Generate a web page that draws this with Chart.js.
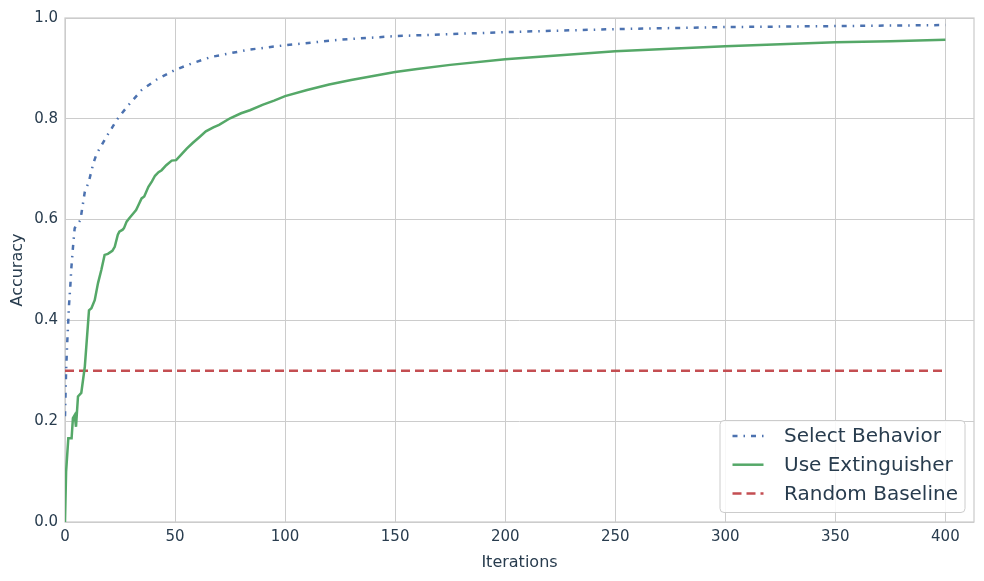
<!DOCTYPE html>
<html>
<head>
<meta charset="utf-8">
<script src="https://cdn.jsdelivr.net/npm/chart.js@4/dist/chart.umd.min.js"></script>
<style>
  html, body { margin: 0; padding: 0; background: #fff; }
  #wrap { width: 984px; height: 581px; }
</style>
</head>
<body>
<div id="wrap"><canvas id="accChart" width="984" height="581"></canvas></div>
<script>
/* Learning curves: accuracy per iteration */
var selectIter = [0, 0.5, 1, 1.4, 1.8, 2.4, 2.9, 3.6, 4.4, 5.5, 7.0, 7.7, 9.0, 10.8, 12.9, 14.4, 16.7, 18.9, 21.2, 23.5,
  28.8, 34.8, 41.7, 50, 58.3, 66.7, 75, 83.3, 100, 125, 150, 175, 200, 250, 300, 350, 400];
var selectAcc = [0.21, 0.30, 0.355, 0.391, 0.429, 0.467, 0.505, 0.544, 0.583, 0.590, 0.599, 0.619, 0.655, 0.675, 0.712, 0.731, 0.748, 0.765, 0.781, 0.798,
  0.827, 0.857, 0.878, 0.897, 0.911, 0.923, 0.930, 0.937, 0.946, 0.957, 0.964, 0.968, 0.972, 0.978, 0.982, 0.984, 0.986];

var extIter = [0, 0.5, 1.5, 3, 3.6, 4.4, 5, 5.9, 7.4, 9.0, 10.9, 12, 13.5, 15, 16.5, 18, 19.5, 21.5, 22.6, 24, 24.7, 26.2, 26.8, 28, 29.1,
  31, 32.3, 33.5, 34.8, 36, 37.9, 39.5, 40.9, 42.5, 43.9, 46, 48.5, 50.5, 53, 55.3, 58, 61.4, 64, 67.4, 70, 75, 80, 84, 90, 95,
  100, 110, 120, 130, 140, 150, 160, 175, 200, 225, 250, 275, 300, 325, 350, 375, 400];
var extAcc = [0, 0.10, 0.166, 0.166, 0.206, 0.212, 0.189, 0.249, 0.256, 0.308, 0.420, 0.424, 0.440, 0.474, 0.500, 0.530, 0.532, 0.538, 0.546, 0.570, 0.576, 0.580, 0.583, 0.596, 0.602,
  0.612, 0.619, 0.630, 0.642, 0.646, 0.665, 0.676, 0.687, 0.694, 0.698, 0.708, 0.717, 0.718, 0.730, 0.741, 0.752, 0.765, 0.775, 0.783, 0.788, 0.801, 0.811, 0.817, 0.828, 0.836,
  0.845, 0.857, 0.868, 0.877, 0.885, 0.893, 0.899, 0.907, 0.918, 0.926, 0.934, 0.939, 0.944, 0.948, 0.952, 0.954, 0.957];

var baseIter = [0, 400];
var baseAcc = [0.3, 0.3];

var xTicks = [0, 50, 100, 150, 200, 250, 300, 350, 400];
var yTicks = [0, 0.2, 0.4, 0.6, 0.8, 1.0];

var TEXT = "#283c4e";
var GRID = "#cccccc";
var FONT = "'DejaVu Sans', sans-serif";

function pts(xs, ys) {
  return xs.map(function (x, i) { return { x: x, y: ys[i] }; });
}

/* frame around the plot + legend box inside lower right */
var framePlugin = {
  id: "frame",
  beforeDatasetsDraw: function (chart) {
    var a = chart.chartArea, ctx = chart.ctx;
    ctx.save();
    ctx.strokeStyle = GRID;
    ctx.lineWidth = 1.25;
    ctx.strokeRect(a.left, a.top, a.right - a.left, a.bottom - a.top);
    ctx.restore();
  },
  afterDraw: function (chart) {
    var a = chart.chartArea, ctx = chart.ctx;
    var w = 245, h = 92;
    var x0 = a.right - 9 - w, y0 = a.bottom - 9.5 - h;
    ctx.save();
    ctx.beginPath();
    ctx.roundRect(x0, y0, w, h, 4);
    ctx.fillStyle = "rgba(255,255,255,0.85)";
    ctx.fill();
    ctx.strokeStyle = GRID;
    ctx.lineWidth = 1;
    ctx.stroke();
    ctx.font = "20px " + FONT;
    ctx.textBaseline = "middle";
    chart.data.datasets.forEach(function (ds, i) {
      var y = y0 + 15.5 + i * 28.7;
      ctx.beginPath();
      ctx.strokeStyle = ds.borderColor;
      ctx.lineWidth = ds.borderWidth;
      ctx.setLineDash(ds.borderDash || []);
      ctx.moveTo(x0 + 12.5, y);
      ctx.lineTo(x0 + 43.5, y);
      ctx.stroke();
      ctx.setLineDash([]);
      ctx.fillStyle = TEXT;
      ctx.fillText(ds.label, x0 + 64, y + 1);
    });
    ctx.restore();
  }
};

new Chart(document.getElementById("accChart"), {
  type: "line",
  data: {
    datasets: [
      { label: "Select Behavior", data: pts(selectIter, selectAcc), borderColor: "#4c72b0",
        borderWidth: 2.5, borderDash: [5, 6, 1.5, 6] },
      { label: "Use Extinguisher", data: pts(extIter, extAcc), borderColor: "#55a868",
        borderWidth: 2.5 },
      { label: "Random Baseline", data: pts(baseIter, baseAcc), borderColor: "#c44e52",
        borderWidth: 2.5, borderDash: [9, 5] }
    ]
  },
  options: {
    responsive: false,
    devicePixelRatio: 1,
    animation: false,
    layout: { padding: { left: 0, top: 18, right: 10, bottom: 0 } },
    elements: { point: { radius: 0 }, line: { tension: 0, fill: false } },
    plugins: { legend: { display: false }, tooltip: { enabled: false } },
    scales: {
      x: {
        type: "linear", min: 0, max: 413,
        afterBuildTicks: function (s) { s.ticks = xTicks.map(function (v) { return { value: v }; }); },
        afterFit: function (s) { s.height = 59; },
        grid: { color: GRID, lineWidth: 1, drawTicks: false },
        border: { display: false },
        ticks: { color: TEXT, font: { family: FONT, size: 15 }, padding: 6, maxRotation: 0 },
        title: { display: true, text: "Iterations", color: TEXT, font: { family: FONT, size: 16 },
          padding: { top: 0, bottom: 9 } }
      },
      y: {
        min: 0, max: 1,
        afterBuildTicks: function (s) { s.ticks = yTicks.map(function (v) { return { value: v }; }); },
        afterFit: function (s) { s.width = 65; },
        grid: { color: GRID, lineWidth: 1, drawTicks: false },
        border: { display: false },
        ticks: { color: TEXT, font: { family: FONT, size: 15 }, padding: 7,
          callback: function (v) { return Number(v).toFixed(1); } },
        title: { display: true, text: "Accuracy", color: TEXT, font: { family: FONT, size: 16 },
          padding: { top: 8, bottom: 0 } }
      }
    }
  },
  plugins: [framePlugin]
});
</script>
</body>
</html>
